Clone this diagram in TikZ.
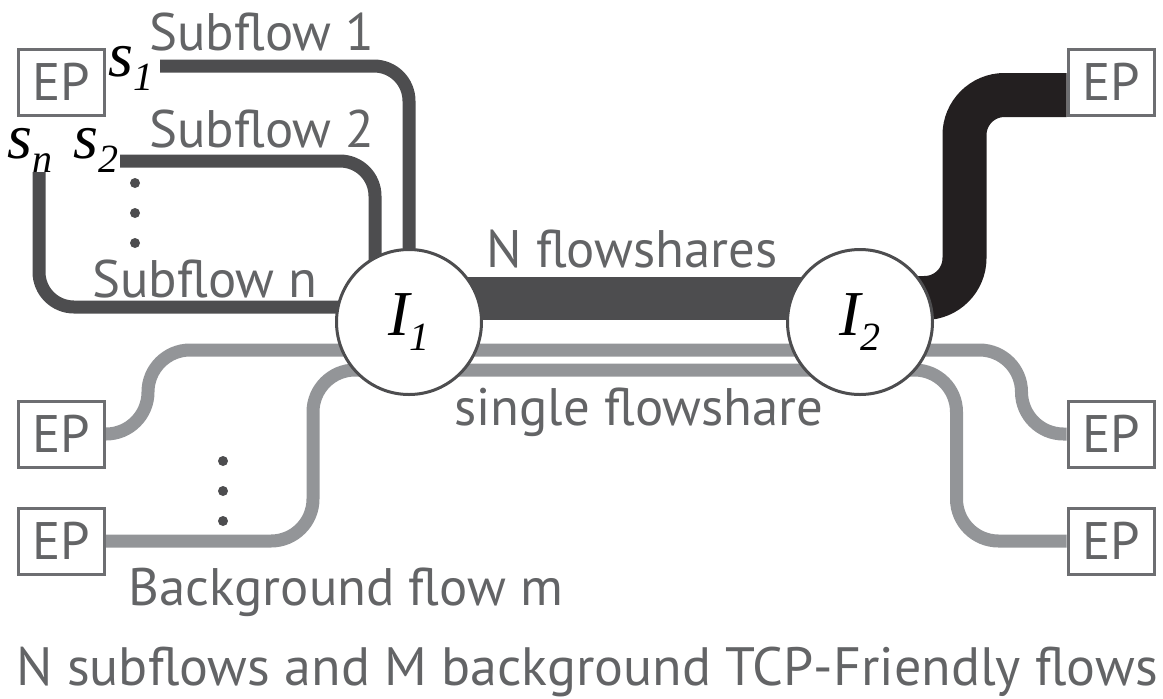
\documentclass[tikz,border=0pt]{standalone}
\usepackage{fontspec}
\setmainfont{PT Sans}
\newfontfamily\timesfont{Liberation Serif}
\usetikzlibrary{backgrounds,calc}
\definecolor{flowdark}{HTML}{4D4D4F}
\definecolor{flowblack}{HTML}{231F20}
\definecolor{flowgray}{HTML}{939598}
\definecolor{boxgray}{HTML}{6D6E71}
\definecolor{txtgray}{HTML}{636466}
\newcommand{\idx}[2]{{\timesfont\itshape\fontsize{32}{32}\selectfont #1\raisebox{-0.22em}{\fontsize{20}{20}\selectfont #2}}}
\begin{document}
\begin{tikzpicture}[x=0.5pt, y=-0.5pt,
    ep/.style={draw=boxgray, line width=1.5pt, fill=white, minimum width=43pt, minimum height=33pt, inner sep=0pt, text=txtgray, font=\fontsize{26.4}{30}\selectfont},
    router/.style={circle, draw=flowdark, line width=1.5pt, fill=white, minimum size=72.5pt, inner sep=0pt},
    flowtxt/.style={text=txtgray, font=\fontsize{26.4}{30}\selectfont, inner sep=0pt, anchor=base},
    subflow/.style={draw=flowdark, line width=6.5pt, rounded corners=17.5pt},
    bgflow/.style={draw=flowgray, line width=6.5pt, rounded corners=21pt}]
            \useasboundingbox (0,0) rectangle (1163,698);

            % Routeurs
            \node[router] (I1) at (409,322) {\idx{I}{1}};
            \node[router] (I2) at (860,322) {\idx{I}{2}};

            % Extrémités
            \node[ep] (epA) at (61,82) {EP};
            \node[ep] (epB) at (1111,82) {EP};
            \node[ep] (epC) at (61,434) {EP};
            \node[ep] (epD) at (61,541) {EP};
            \node[ep] (epE) at (1111,434) {EP};
            \node[ep] (epF) at (1111,541) {EP};

            % Départs des sous-flots
            \coordinate (f1) at (160,66);
            \coordinate (f2) at (120,161);
            \coordinate (fn) at (39,172);
            \node[inner sep=0pt] (s1) at (131,68) {\idx{s}{1}};
            \node[inner sep=0pt] (s2) at (96,150) {\idx{s}{2}};
            \node[inner sep=0pt] (sn) at (30,150) {\idx{s}{n}};

            \begin{pgfonlayer}{background}
            % Sous-flots vers I1
            \draw[subflow] (f1) -| (I1.center);
            \draw[subflow] (f2) -| ([xshift=-17pt]I1.center);
            \draw[subflow] (fn) |- ([yshift=7.5pt]I1.center);

            % N flowshares et sortie
            \draw[flowdark, line width=21.5pt] ([yshift=12pt]I1.center) -- ([yshift=12pt]I2.center);
            \draw[flowblack, line width=22pt, rounded corners=20pt] ([yshift=12pt]I2.center) -| ($(epB.west)+(-102,13)$) -- ([yshift=-6.5pt]epB.west);

            % Flots de fond
            \draw[bgflow] (epC.east) -| (148,350) -| ($(epE.west)+(-45,0)$) -- (epE.west);
            \draw[bgflow] (epD.east) -| (313,370) -| ($(epF.west)+(-110,0)$) -- (epF.west);
            \end{pgfonlayer}

            % Points de suspension
            \foreach \y in {183,213,243} \fill[flowdark] (135,\y) circle (2.5pt);
            \foreach \y in {461,491,521} \fill[flowdark] (223,\y) circle (2.5pt);

            % Textes
            \node[flowtxt] (t1) at (262,50) {Subflow 1};
            \node[flowtxt] (t2) at (262,147) {Subflow 2};
            \node[flowtxt] (tn) at (205,297) {Subflow n};
            \node[flowtxt] (tN) at (632,267) {N flowshares};
            \node[flowtxt] (ts) at (639,425) {single flowshare};
            \node[flowtxt] (tb) at (346,605) {Background flow m};
            \node[flowtxt, font=\fontsize{27}{30}\selectfont] (tc) at (587,685) {N subflows and M background TCP-Friendly flows};
        \end{tikzpicture}
\end{document}
